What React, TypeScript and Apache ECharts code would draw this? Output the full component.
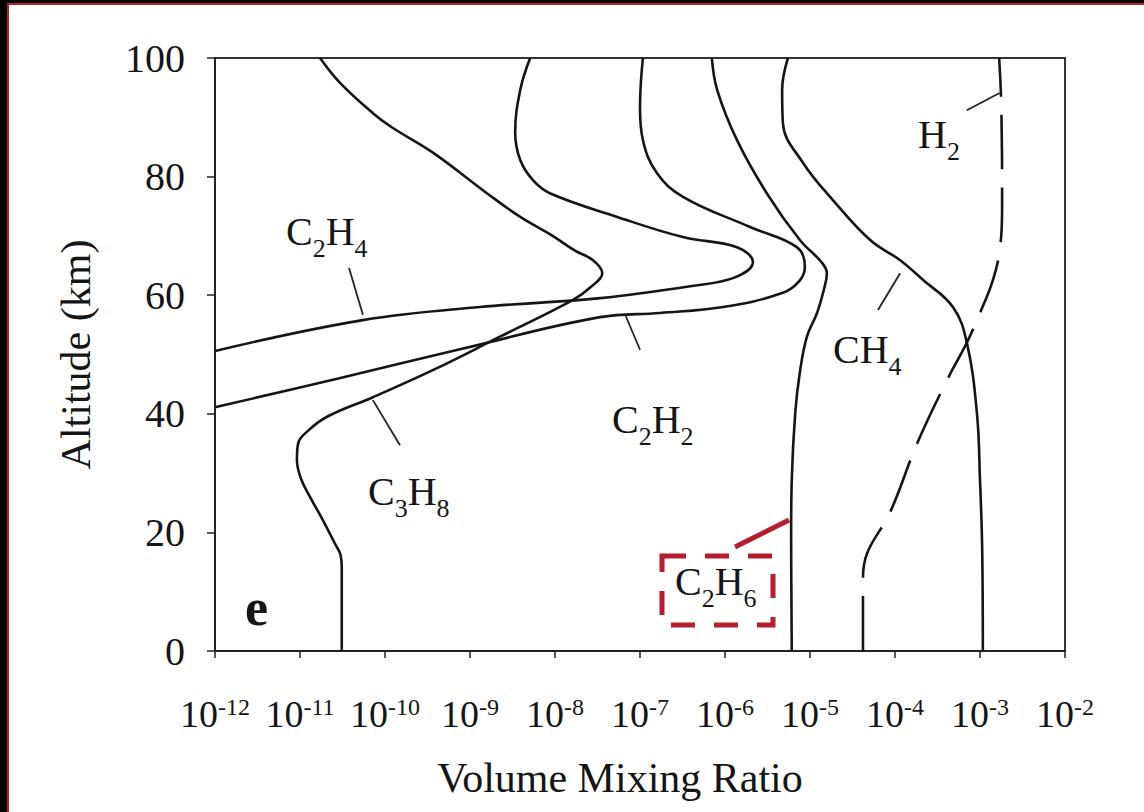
import { useEffect, useRef } from "react";
import * as echarts from "echarts";

const FONT = "'Liberation Serif', 'Times New Roman', serif";
const RED = "#b71c2f";
const INK = "#151515";

// [volume mixing ratio, altitude km]
const C3H8: [number, number][] = [
  [3.1e-11, 0], [3.1e-11, 14], [3.0e-11, 16.2], [2.6e-11, 18], [1.87e-11, 22], [1.31e-11, 26], [1.03e-11, 29],
  [9.2e-12, 32.2], [9.5e-12, 35], [1.21e-11, 37], [2.08e-11, 39.5], [7.2e-11, 42.8], [3.7e-10, 47.4],
  [2.25e-9, 53], [1.63e-8, 59.2], [2.7e-8, 61.5], [3.6e-8, 63.7], [2.8e-8, 65.9], [1.72e-8, 67.5],
  [8.7e-9, 70.3], [3.9e-9, 73.2], [1.58e-9, 77.2], [3.7e-10, 84], [1.24e-10, 88.2], [7.2e-11, 90.7],
  [2.96e-11, 95.8], [1.72e-11, 100],
];
const C2H4: [number, number][] = [
  [1e-12, 50.6], [5.5e-11, 55.8], [1.31e-9, 58], [3.4e-8, 59.5], [3.9e-7, 61.5], [1.31e-6, 63],
  [2.13e-6, 65.6], [1.38e-6, 68.1], [3.2e-7, 69.8], [5.4e-8, 73.2], [8.7e-9, 77.2], [5.5e-9, 79.4],
  [3.9e-9, 82.8], [3.4e-9, 87.4], [3.9e-9, 94.6], [5.1e-9, 100],
];
const C2H2: [number, number][] = [
  [1e-12, 41.1], [2.9e-11, 46], [8.3e-10, 51], [3.4e-8, 56.3], [1.72e-7, 57], [9.5e-7, 58],
  [4.8e-6, 60.4], [7.6e-6, 62.5], [8.7e-6, 64.8], [7.0e-6, 68.1], [1.97e-6, 71.5], [3.2e-7, 76.6],
  [1.58e-7, 80.6], [1.08e-7, 86.2], [1.0e-7, 91.7], [1.08e-7, 100],
];
const C2H6: [number, number][] = [
  [6.1e-6, 0], [6.0e-6, 20], [6.1e-6, 28.8], [6.7e-6, 40.1], [7.6e-6, 47], [9.2e-6, 53],
  [1.21e-5, 57], [1.46e-5, 61], [1.58e-5, 63.7], [1.38e-5, 65.5], [7.6e-6, 69.3], [3.1e-6, 77.2],
  [1.38e-6, 86.2], [8.1e-7, 94.6], [7.0e-7, 100],
];
const CH4: [number, number][] = [
  [1.08e-3, 0], [1.06e-3, 17.5], [1.0e-3, 28.8], [9.2e-4, 40.1], [7.0e-4, 52], [4.8e-4, 58],
  [2.13e-4, 62.6], [1.15e-4, 65.9], [5.1e-5, 69.3], [1.87e-5, 76], [8.3e-6, 82.3], [4.8e-6, 89],
  [4.7e-6, 94.6], [5.5e-6, 100],
];
const H2: [number, number][] = [
  [4.2e-5, 0], [4.2e-5, 12], [4.7e-5, 16.5], [8.7e-5, 23.3], [1.82e-4, 35], [4.1e-4, 45.7],
  [7.0e-4, 52], [1.0e-3, 57], [1.42e-3, 62.6], [1.72e-3, 68], [1.82e-3, 75], [1.78e-3, 92],
  [1.68e-3, 100],
];

// leader lines from labels to curves, [ratio, altitude]
const LEADERS: [number, number][][] = [
  [[3.77e-11, 64.6], [5.5e-11, 56.7]],
  [[7.2e-11, 42.3], [1.5e-10, 34.7]],
  [[6.7e-8, 56.7], [1.0e-7, 50.8]],
  [[6.3e-5, 57.5], [1.15e-4, 63.7]],
  [[7.0e-4, 91.2], [1.7e-3, 94.1]],
];

const LABELS = [
  { text: "{m|C}{s|2}{m|H}{s|4}", x: 286, base: 245 },
  { text: "{m|C}{s|3}{m|H}{s|8}", x: 368, base: 505 },
  { text: "{m|C}{s|2}{m|H}{s|2}", x: 612, base: 433 },
  { text: "{m|C}{s|2}{m|H}{s|6}", x: 675, base: 595 },
  { text: "{m|CH}{s|4}", x: 833, base: 363 },
  { text: "{m|H}{s|2}", x: 918, base: 148 },
];

export default function App() {
  const ref = useRef<HTMLDivElement>(null);
  useEffect(() => {
    document.body.style.margin = "0";
    const chart = echarts.init(ref.current!, null, { renderer: "svg" });
    const curve = (name: string, data: [number, number][], dashed = false) => ({
      type: "line",
      name,
      data,
      smooth: 0.4,
      symbol: "none",
      silent: true,
      z: 3,
      lineStyle: { color: INK, width: 2.6, type: dashed ? [55, 18] : "solid" },
    });
    const leaders = LEADERS.map((d) => ({
      type: "line",
      data: d,
      smooth: false,
      symbol: "none",
      silent: true,
      lineStyle: { color: "#222", width: 1.8 },
    }));
    const rich = {
      m: { fontFamily: FONT, fontSize: 40, lineHeight: 40, color: INK, verticalAlign: "top" },
      s: { fontFamily: FONT, fontSize: 26, lineHeight: 26, color: INK, verticalAlign: "top", padding: [24, 0, 0, 0] },
    };
    const labelGraphics = LABELS.map((l) => ({
      type: "text",
      x: l.x,
      y: l.base - 33.5,
      z: 10,
      style: {
        text: l.text,
        rich,
        fill: INK,
        fontFamily: FONT,
        fontSize: 40,
        align: "left",
        verticalAlign: "top",
        textAlign: "left",
        textVerticalAlign: "top",
      },
    }));
    chart.setOption({
      animation: false,
      backgroundColor: "#ffffff",
      grid: {
        left: 215,
        right: 79,
        top: 58,
        bottom: 161,
        show: true,
        borderColor: "#333",
        borderWidth: 2,
        containLabel: false,
      },
      xAxis: {
        type: "log",
        logBase: 10,
        min: 1e-12,
        max: 1e-2,
        interval: 1,
        name: "Volume Mixing Ratio",
        nameLocation: "middle",
        nameGap: 106,
        nameTextStyle: { fontFamily: FONT, fontSize: 42, color: INK, padding: [0, 40, 0, 0] },
        axisLine: { show: true, lineStyle: { color: "#222", width: 2 } },
        axisTick: { show: true, inside: false, length: 7, lineStyle: { color: "#222", width: 1.5 } },
        minorTick: { show: false },
        splitLine: { show: false },
        axisLabel: {
          margin: 44,
          formatter: (v: number) => `{b|10}{s|${Math.round(Math.log10(v))}}`,
          rich: {
            b: { fontFamily: FONT, fontSize: 38, lineHeight: 40, color: INK, verticalAlign: "top" },
            s: { fontFamily: FONT, fontSize: 24, lineHeight: 24, color: INK, verticalAlign: "top" },
          },
        },
      },
      yAxis: {
        type: "value",
        min: 0,
        max: 100,
        interval: 20,
        name: "Altitude (km)",
        nameLocation: "middle",
        nameGap: 118,
        nameRotate: 90,
        nameTextStyle: { fontFamily: FONT, fontSize: 42, color: INK },
        axisLine: { show: true, lineStyle: { color: "#222", width: 2 } },
        axisTick: { show: true, inside: false, length: 8, lineStyle: { color: "#222", width: 1.5 } },
        splitLine: { show: false },
        axisLabel: { margin: 30, fontFamily: FONT, fontSize: 40, color: INK },
      },
      series: [
        curve("C3H8", C3H8),
        curve("C2H4", C2H4),
        curve("C2H2", C2H2),
        curve("C2H6", C2H6),
        curve("CH4", CH4),
        curve("H2", H2, true),
        ...leaders,
      ],
      graphic: [
        { type: "rect", shape: { x: 0, y: 0, width: 7, height: 812 }, style: { fill: "#000" }, z: 20 },
        { type: "rect", shape: { x: 7, y: 0, width: 2, height: 812 }, style: { fill: RED }, z: 20 },
        { type: "rect", shape: { x: 0, y: 0, width: 1144, height: 3 }, style: { fill: "#000" }, z: 21 },
        { type: "rect", shape: { x: 7, y: 3, width: 1137, height: 2 }, style: { fill: RED }, z: 21 },
        {
          type: "text",
          x: 245,
          y: 581,
          z: 10,
          style: { text: "e", fill: INK, fontFamily: FONT, fontSize: 52, fontWeight: "bold", align: "left", verticalAlign: "top" },
        },
        ...labelGraphics,
        {
          type: "rect",
          z: 11,
          shape: { x: 662, y: 556, width: 111, height: 69 },
          style: { fill: "none", stroke: RED, lineWidth: 5, lineDash: [24, 19] },
        },
        {
          type: "line",
          z: 11,
          shape: { x1: 735, y1: 547, x2: 789, y2: 520 },
          style: { stroke: RED, lineWidth: 5 },
        },
      ],
    });
    return () => chart.dispose();
  }, []);
  return <div ref={ref} style={{ width: 1144, height: 812 }} />;
}
